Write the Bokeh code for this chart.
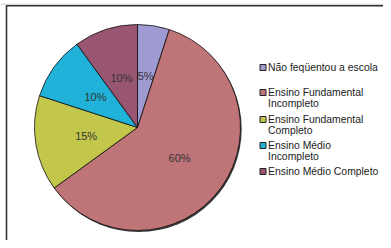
import math
from bokeh.plotting import figure
from bokeh.models import ColumnDataSource, Range1d
from bokeh.core.properties import value
from bokeh.embed import file_html
from bokeh.resources import INLINE

# ---- data ----
categories = ["Não feqüentou a escola", "Ensino Fundamental Incompleto",
              "Ensino Fundamental Completo", "Ensino Médio Incompleto",
              "Ensino Médio Completo"]
legend_lines = [["Não feqüentou a escola"],
                ["Ensino Fundamental", "Incompleto"],
                ["Ensino Fundamental", "Completo"],
                ["Ensino Médio", "Incompleto"],
                ["Ensino Médio Completo"]]
values = [5, 60, 15, 10, 10]
colors = ["#A09AD2", "#BF7478", "#C2C64A", "#20B2D8", "#985673"]

W, H = 383, 240
p = figure(width=W, height=H, output_backend="svg", toolbar_location=None,
           x_range=Range1d(0, W), y_range=Range1d(0, H), min_border=0)
p.axis.visible = False
p.grid.visible = False
p.outline_line_color = None
p.background_fill_color = "white"
p.border_fill_color = "white"

# frame (top and left edges visible)
p.line([0, W], [H - 3.8, H - 3.8], line_color="#cccccc", line_width=1)
p.line([6, 6, W], [0, H - 5.2, H - 5.2], line_color="#333333", line_width=1.6)

cx, cy, r = 137, H - 127, 103
total = sum(values)
starts, ends, mids = [], [], []
cum = 0
for v in values:
    a0 = math.pi / 2 - 2 * math.pi * (cum + v) / total
    a1 = math.pi / 2 - 2 * math.pi * cum / total
    starts.append(a0)
    ends.append(a1)
    mids.append((a0 + a1) / 2)
    cum += v

# shadow
p.circle(x=[cx + 1.2], y=[cy - 1.5], radius=r, fill_color="#3a3a3a", line_color=None)

src = ColumnDataSource(dict(x=[cx] * len(values), y=[cy] * len(values),
                            start=starts, end=ends, color=colors))
p.wedge(x="x", y="y", radius=r, start_angle="start", end_angle="end",
        fill_color="color", line_color="#111111", line_width=0.8, source=src)

# percentage labels
lr = 52
lx = [cx + lr * math.cos(m) for m in mids]
ly = [cy + lr * math.sin(m) for m in mids]
lt = [f"{round(100 * v / total)}%" for v in values]
p.text(x=lx, y=ly, text=lt, text_align="center", text_baseline="middle",
       text_font=value("Liberation Sans"), text_font_size="11px", text_color="#333333")

# legend
item_tops = [67, 92, 119, 145, 171]
sq_x, tx = 262.5, 267.5
for lines, col, top in zip(legend_lines, colors, item_tops):
    yy = H - top
    p.rect(x=[sq_x], y=[yy], width=6, height=6, fill_color=col, line_color="#222222", line_width=1)
    for i, ln in enumerate(lines):
        p.text(x=[tx], y=[yy - 11 * i], text=[ln], text_align="left", text_baseline="middle",
               text_font=value("Liberation Sans"), text_font_size="10.4px", text_color="#222222")

open("out.html", "w").write(file_html(p, INLINE))
